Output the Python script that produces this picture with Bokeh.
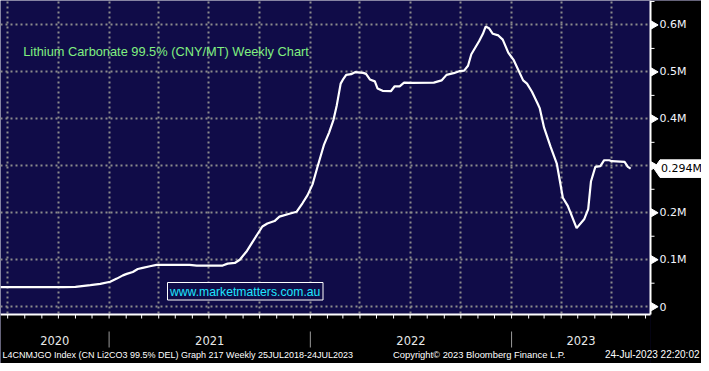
import math
import pandas as pd
from bokeh.plotting import figure
from bokeh.models import Range1d, FixedTicker, Grid, ColumnDataSource
from bokeh.core.properties import value
from bokeh.embed import file_html
from bokeh.resources import INLINE

# ---- data (weekly lithium carbonate price, CNY/MT) ----
dates = [
    "2020-06-18", "2020-10-10", "2020-11-01", "2020-11-28", "2020-12-16",
    "2021-01-03", "2021-01-15", "2021-01-26", "2021-02-02", "2021-02-13",
    "2021-02-22", "2021-03-03", "2021-03-16", "2021-03-28", "2021-05-27",
    "2021-06-09", "2021-07-26", "2021-08-04", "2021-08-17", "2021-08-26",
    "2021-09-08", "2021-09-18", "2021-09-27", "2021-10-06", "2021-10-15",
    "2021-10-28", "2021-11-06", "2021-11-24", "2021-12-07", "2021-12-18",
    "2021-12-27", "2022-01-05", "2022-01-13", "2022-01-26", "2022-02-04",
    "2022-02-12", "2022-02-18", "2022-02-25", "2022-03-02", "2022-03-07",
    "2022-03-16", "2022-03-23", "2022-04-07", "2022-04-12", "2022-04-19",
    "2022-04-28", "2022-05-03", "2022-05-12", "2022-05-27", "2022-06-03",
    "2022-06-12", "2022-06-20", "2022-07-05", "2022-08-13", "2022-08-27",
    "2022-09-05", "2022-09-18", "2022-09-28", "2022-10-07", "2022-10-14",
    "2022-10-20", "2022-11-03", "2022-11-10", "2022-11-15", "2022-11-21",
    "2022-11-28", "2022-12-08", "2022-12-16", "2022-12-26", "2023-01-05",
    "2023-01-22", "2023-01-29", "2023-02-07", "2023-02-17", "2023-02-21",
    "2023-03-01", "2023-03-13", "2023-03-24", "2023-04-04", "2023-04-13",
    "2023-04-29", "2023-05-13", "2023-05-20", "2023-05-25", "2023-06-02",
    "2023-06-11", "2023-06-18", "2023-06-27", "2023-07-02", "2023-07-25",
    "2023-07-31", "2023-08-05",
]
prices = [
    41700, 41700, 42300, 45800, 48500,
    53100, 59800, 66700, 69800, 74000,
    80200, 82700, 86000, 89000, 89000,
    87500, 87500, 91700, 93100, 100000,
    118700, 137500, 154200, 170800, 177100,
    182300, 191700, 197900, 202100, 220800,
    237500, 260400, 293700, 345800, 370800,
    397900, 429200, 475000, 485400, 493700,
    495200, 499400, 497900, 495800, 483900,
    479800, 464600, 459800, 458900, 469400,
    469400, 477100, 476500, 477100, 481900,
    493700, 497300, 501500, 502700, 513100,
    537500, 565200, 581200, 596500, 593100,
    581200, 577700, 568700, 541000, 525000,
    481900, 475000, 457700, 433300, 422900,
    381200, 339600, 304800, 231900, 214600,
    167300, 186900, 207700, 266700, 297900,
    299400, 311900, 311900, 309800, 308300,
    297900, 294000,
]
year_labels = ["2020", "2021", "2022", "2023"]
y_ticks = [0, 100000, 200000, 300000, 400000, 500000, 600000]
y_tick_labels = ["0", "0.1M", "0.2M", "", "0.4M", "0.5M", "0.6M"]
y_minor = [50000, 150000, 250000, 350000, 450000, 550000, 650000]
last_price = 294000
last_price_text = "0.294M"
title_text = "Lithium Carbonate 99.5% (CNY/MT) Weekly Chart"
watermark_text = "www.marketmatters.com.au"
footer_left = "L4CNMJGO Index (CN Li2CO3 99.5% DEL) Graph 217  Weekly 25JUL2018-24JUL2023"
footer_mid = "Copyright\u00a9 2023 Bloomberg Finance L.P."
footer_right = "24-Jul-2023 22:20:02"


def ms(d):
    return pd.Timestamp(d).value / 1e6


# ---- layout (pixels of the 701x363 canvas) ----
W, H = 701, 363          # canvas
PW, PH = 650, 314        # navy plot area (top-left at 0,0)
X_START, X_END = "2020-06-18", "2023-09-10"
Y_TOP, Y_BOT = 652083, -16667
x0, x1 = ms(X_START), ms(X_END)
mspp = (x1 - x0) / PW
vpp = (Y_TOP - Y_BOT) / PH


def X(px):
    return x0 + px * mspp


def Y(py):
    return Y_TOP - py * vpp


NAVY = "#100c48"
GRID = "#8c8c8c"
FG = "#f2f4fc"

p = figure(
    width=W, height=H,
    x_range=Range1d(X(0), X(W)), y_range=Range1d(Y(H), Y(0)),
    x_axis_location=None, y_axis_location=None,
    output_backend="svg", toolbar_location=None, min_border=0,
    background_fill_color=NAVY, border_fill_color="black", outline_line_color=None,
)
for g in list(p.xgrid) + list(p.ygrid):
    g.visible = False

# dotted grids: quarterly vertical, 0.1M horizontal
quarters = [ms(d) for d in pd.date_range("2020-07-01", "2023-07-01", freq="QS")]
for dim, ticks in ((0, quarters), (1, y_ticks)):
    p.add_layout(Grid(dimension=dim, ticker=FixedTicker(ticks=ticks),
                      grid_line_color=GRID, grid_line_dash="2 3", grid_line_width=2))

# black margins (axis area) over the grid
p.quad(left=[X(PW), X(0)], right=[X(W), X(PW)], top=[Y(0), Y(PH)], bottom=[Y(H), Y(H)],
       fill_color="black", line_color=None)

# price line
src = ColumnDataSource(dict(x=pd.to_datetime(dates), y=prices))
p.line("x", "y", source=src, line_color="white", line_width=2.2)

# axis lines
p.segment(x0=[X(PW), X(0)], y0=[Y(0), Y(PH)], x1=[X(PW), X(PW)], y1=[Y(PH), Y(PH)],
          line_color="white", line_width=2)

# bottom axis: monthly ticks, year separators, year labels
months = [ms(d) for d in pd.date_range("2020-07-01", "2023-09-01", freq="MS")]
p.segment(x0=months, x1=months, y0=[Y(PH)] * len(months), y1=[Y(PH + 4)] * len(months),
          line_color="white", line_width=1)
year_bounds = [ms(f"{y}-01-01") for y in (2021, 2022, 2023)]
p.segment(x0=year_bounds, x1=year_bounds, y0=[Y(PH + 17)] * 3, y1=[Y(PH + 33)] * 3,
          line_color="#9a9a9a", line_width=1)
year_x = []
for yl in year_labels:
    a = max(ms(f"{yl}-01-01"), x0)
    b = min(ms(f"{int(yl) + 1}-01-01"), x1)
    year_x.append((a + b) / 2)
p.text(x=year_x, y=[Y(339.5)] * len(year_x), text=year_labels,
       text_align="center", text_baseline="middle", text_color="#e8e8e8",
       text_font=value("DejaVu Sans"), text_font_size="11.5px")

# right axis: triangle major ticks, minor ticks, labels
p.scatter(x=[X(PW + 3)] * len(y_ticks), y=y_ticks, marker="triangle", angle=-math.pi / 2,
          size=8, fill_color="white", line_color="white")
p.segment(x0=[X(PW)] * len(y_minor), x1=[X(PW + 4)] * len(y_minor), y0=y_minor, y1=y_minor,
          line_color="white", line_width=1)
lab_y = [t for t, s in zip(y_ticks, y_tick_labels) if s]
lab_s = [s for s in y_tick_labels if s]
p.text(x=[X(PW + 9)] * len(lab_y), y=lab_y, text=lab_s, text_baseline="middle",
       text_color=FG, text_font=value("DejaVu Sans"), text_font_size="11px")

# last price marker box
h = 8.8 * vpp
p.patch(x=[X(PW + 3.5), X(PW + 9.5), X(W), X(W), X(PW + 9.5)],
        y=[last_price, last_price + h, last_price + h, last_price - h, last_price - h],
        fill_color="white", line_color="white")
p.text(x=[X(PW + 10.5)], y=[last_price], text=[last_price_text], text_baseline="middle",
       text_color="black", text_font=value("DejaVu Sans"), text_font_size="11px")

# chart title
p.text(x=[X(22.7)], y=[Y(51)], text=[title_text], text_baseline="middle",
       text_color="#80f080", text_font=value("Liberation Sans"), text_font_size="12.8px")

# watermark box
p.quad(left=[X(167)], right=[X(322.5)], top=[Y(282)], bottom=[Y(299.5)],
       fill_color=NAVY, line_color="white", line_width=1)
p.text(x=[X(169.5)], y=[Y(291)], text=[watermark_text], text_baseline="middle",
       text_color="#1ee6ff", text_font=value("Liberation Sans"), text_font_size="12.2px")

# footer
p.text(x=[X(2)], y=[Y(354)], text=[footer_left], text_baseline="middle",
       text_color="white", text_font=value("Liberation Sans"), text_font_size="9px")
p.text(x=[X(392.5)], y=[Y(354)], text=[footer_mid], text_baseline="middle",
       text_color="white", text_font=value("Liberation Sans"), text_font_size="9.4px")
p.text(x=[X(699)], y=[Y(354)], text=[footer_right], text_baseline="middle", text_align="right",
       text_color="white", text_font=value("Liberation Sans"), text_font_size="10px")

open("out.html", "w").write(file_html(p, INLINE))
